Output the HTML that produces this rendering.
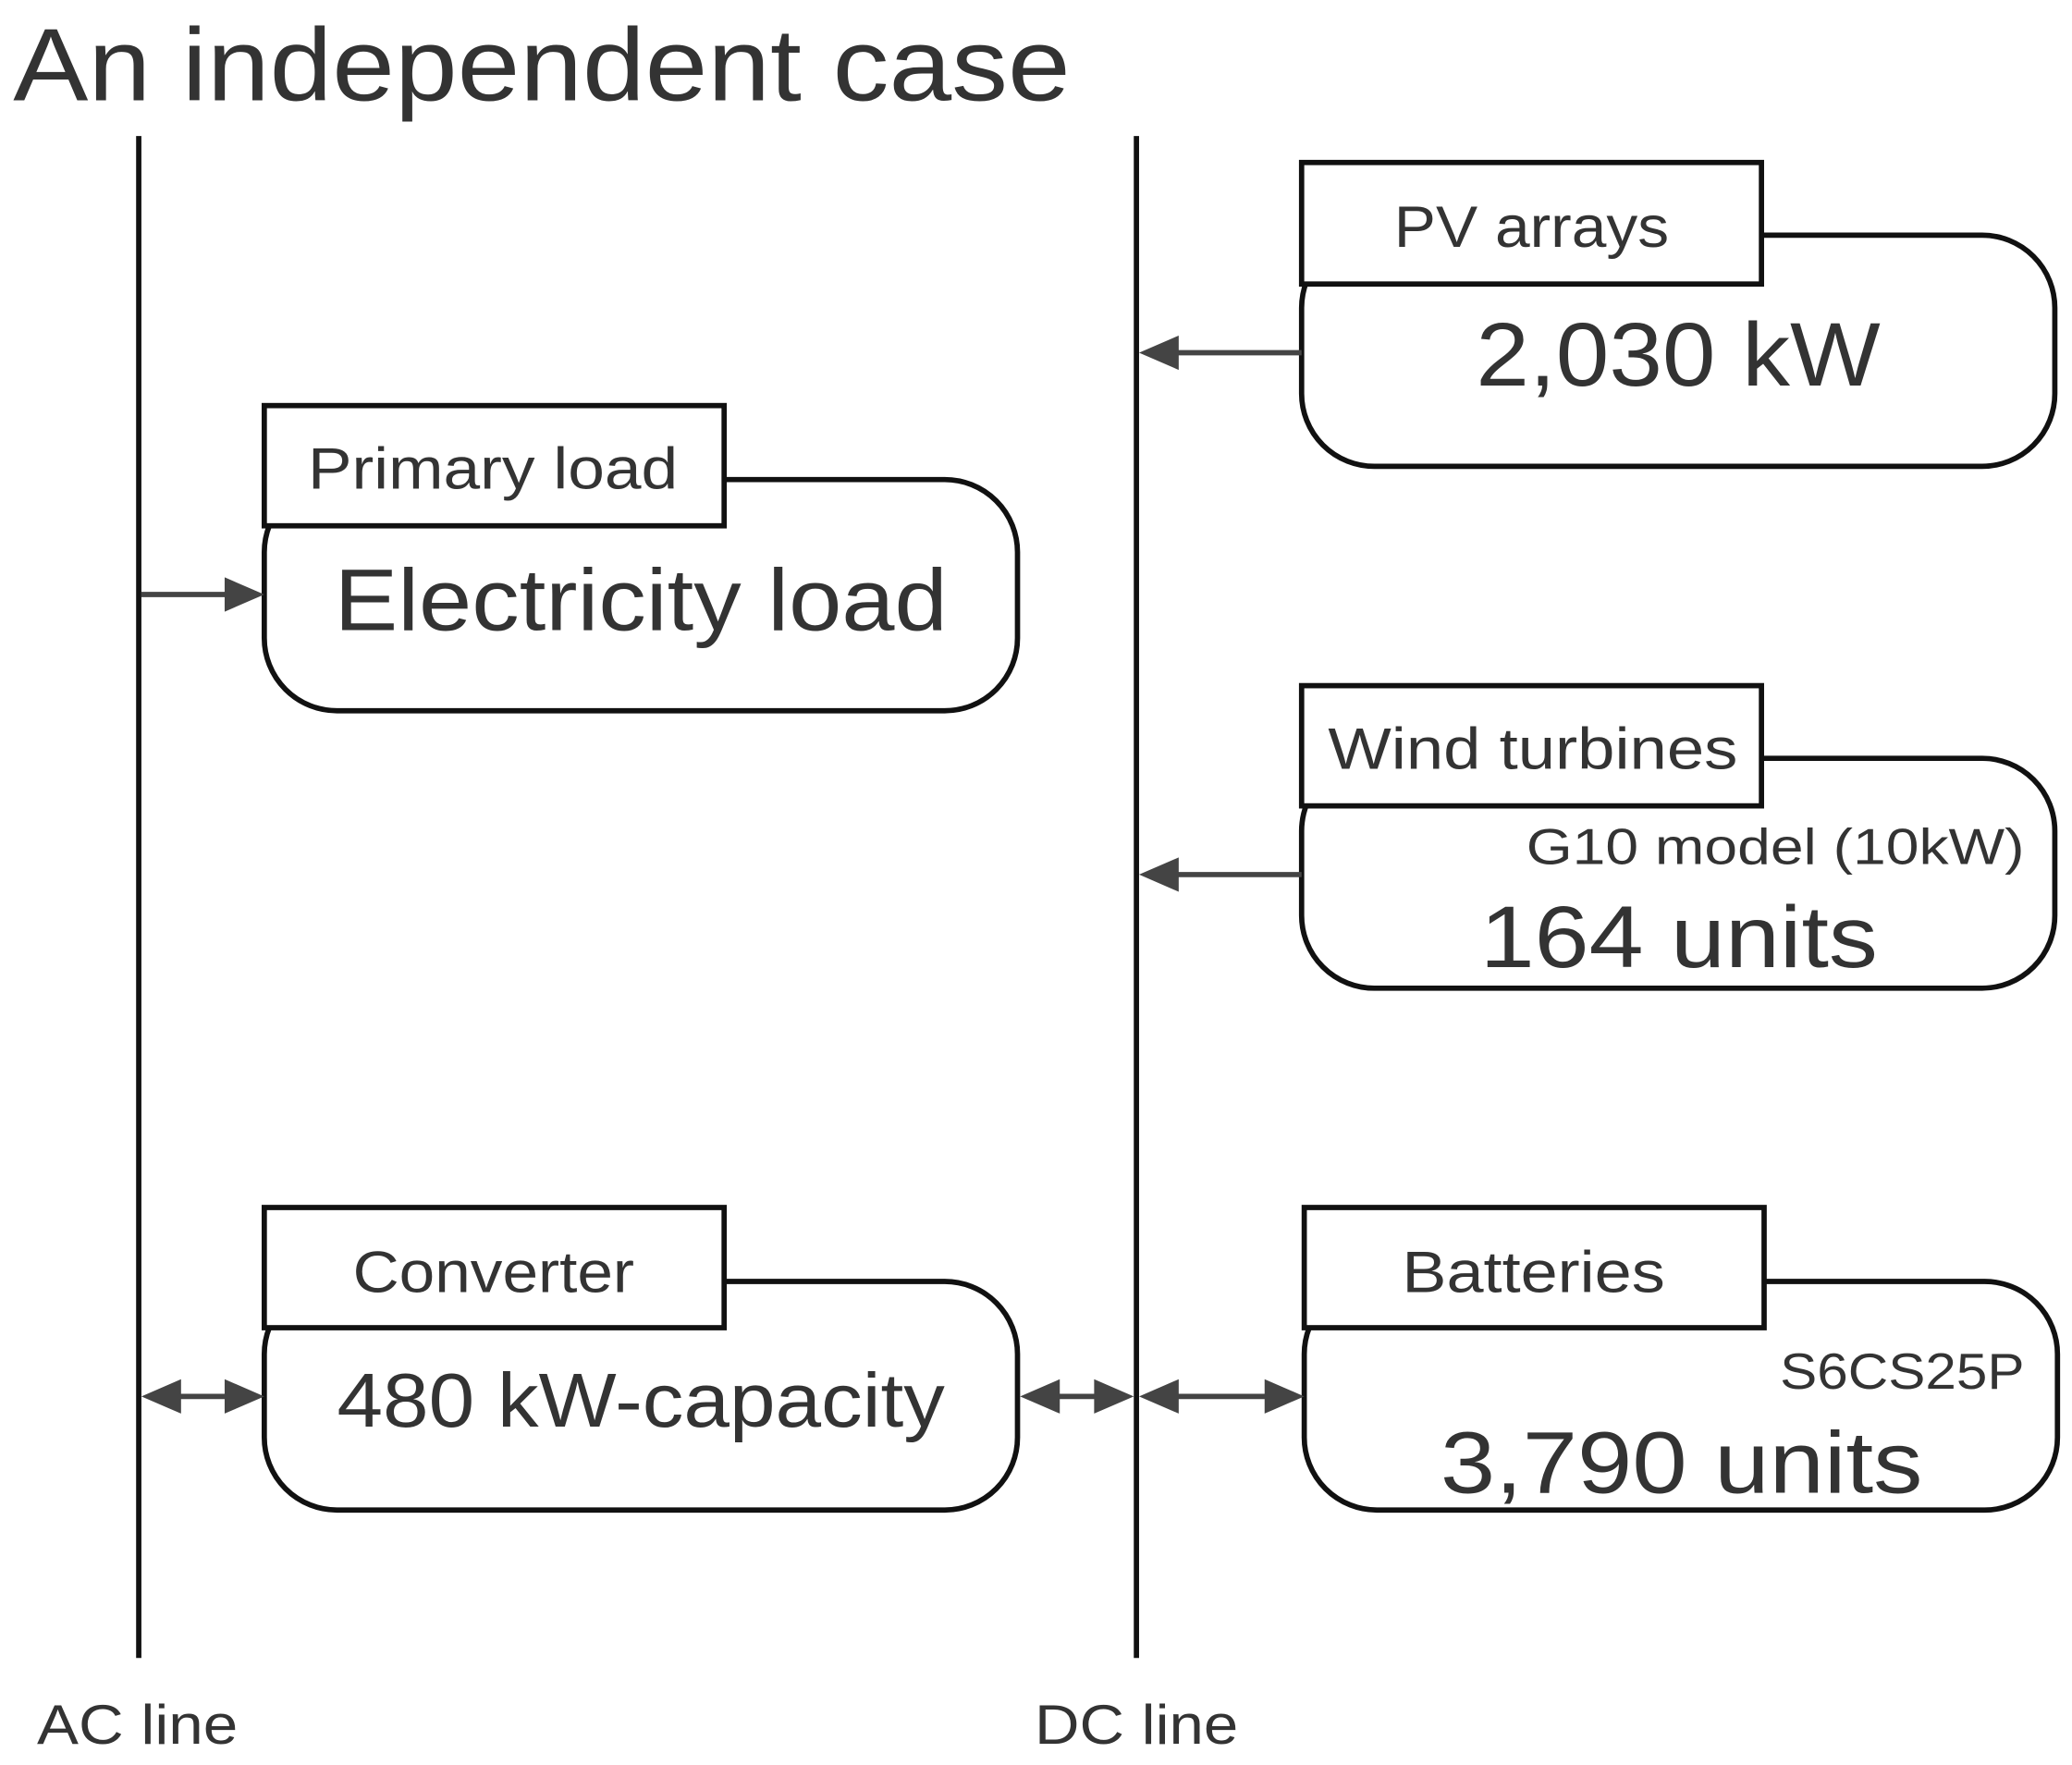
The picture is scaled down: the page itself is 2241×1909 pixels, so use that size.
<!DOCTYPE html>
<html><head><meta charset="utf-8"><style>
html,body{margin:0;padding:0;background:#fff;}
svg{display:block;}
text{font-family:"Liberation Sans","DejaVu Sans",sans-serif;fill:#333;}
</style></head><body>
<svg width="2241" height="1909" viewBox="0 0 1568 1336" preserveAspectRatio="none" xmlns="http://www.w3.org/2000/svg">
<text x="10" y="76" font-size="78" textLength="800" lengthAdjust="spacingAndGlyphs">An independent case</text>
<line x1="105" y1="103" x2="105" y2="1255" stroke="#111" stroke-width="4"/>
<line x1="860" y1="103" x2="860" y2="1255" stroke="#111" stroke-width="4"/>

<g fill="#fff" stroke="#111" stroke-width="4">
<rect x="985" y="178" width="570" height="175" rx="55"/>
<rect x="985" y="123" width="348" height="92"/>
<rect x="200" y="363" width="570" height="175" rx="55"/>
<rect x="200" y="307" width="348" height="91"/>
<rect x="985" y="574" width="570" height="174" rx="55"/>
<rect x="985" y="519" width="348" height="91"/>
<rect x="200" y="970" width="570" height="173" rx="55"/>
<rect x="200" y="914" width="348" height="91"/>
<rect x="987" y="970" width="570" height="173" rx="55"/>
<rect x="987" y="914" width="348" height="91"/>
</g>

<g stroke="#444" stroke-width="4" fill="#444">
<line x1="985" y1="267" x2="880" y2="267"/><polygon points="862,267 892,254 892,280" stroke="none"/>
<line x1="107" y1="450" x2="180" y2="450"/><polygon points="200,450 170,437 170,463" stroke="none"/>
<line x1="985" y1="662" x2="880" y2="662"/><polygon points="862,662 892,649 892,675" stroke="none"/>
<line x1="120" y1="1057" x2="185" y2="1057"/><polygon points="107,1057 137,1044 137,1070" stroke="none"/><polygon points="200,1057 170,1044 170,1070" stroke="none"/>
<line x1="785" y1="1057" x2="845" y2="1057"/><polygon points="772,1057 802,1044 802,1070" stroke="none"/><polygon points="858,1057 828,1044 828,1070" stroke="none"/>
<line x1="877" y1="1057" x2="972" y2="1057"/><polygon points="862,1057 892,1044 892,1070" stroke="none"/><polygon points="987,1057 957,1044 957,1070" stroke="none"/>
</g>

<g lengthAdjust="spacingAndGlyphs">
<text x="1055" y="187" font-size="44" textLength="208" lengthAdjust="spacingAndGlyphs">PV arrays</text>
<text x="1117" y="292" font-size="68" textLength="306" lengthAdjust="spacingAndGlyphs">2,030 kW</text>
<text x="233" y="370" font-size="44" textLength="280" lengthAdjust="spacingAndGlyphs">Primary load</text>
<text x="253" y="477" font-size="66" textLength="464" lengthAdjust="spacingAndGlyphs">Electricity load</text>
<text x="1005" y="582" font-size="44" textLength="310" lengthAdjust="spacingAndGlyphs">Wind turbines</text>
<text x="1120" y="732" font-size="66" textLength="301" lengthAdjust="spacingAndGlyphs">164 units</text>
<text x="267" y="978" font-size="44" textLength="213" lengthAdjust="spacingAndGlyphs">Converter</text>
<text x="255" y="1080" font-size="58" textLength="460" lengthAdjust="spacingAndGlyphs">480 kW-capacity</text>
<text x="1061" y="978" font-size="44" textLength="199" lengthAdjust="spacingAndGlyphs">Batteries</text>
<text x="1090" y="1130" font-size="66" textLength="365" lengthAdjust="spacingAndGlyphs">3,790 units</text>
<text x="28" y="1320" font-size="42" textLength="152" lengthAdjust="spacingAndGlyphs">AC line</text>
<text x="783" y="1320" font-size="42" textLength="154" lengthAdjust="spacingAndGlyphs">DC line</text>
<text x="1155" y="654" font-size="38" textLength="377" lengthAdjust="spacingAndGlyphs">G10 model (10kW)</text>
<text x="1347" y="1051" font-size="38" textLength="185" lengthAdjust="spacingAndGlyphs">S6CS25P</text>
</g>
</svg>
</body></html>
